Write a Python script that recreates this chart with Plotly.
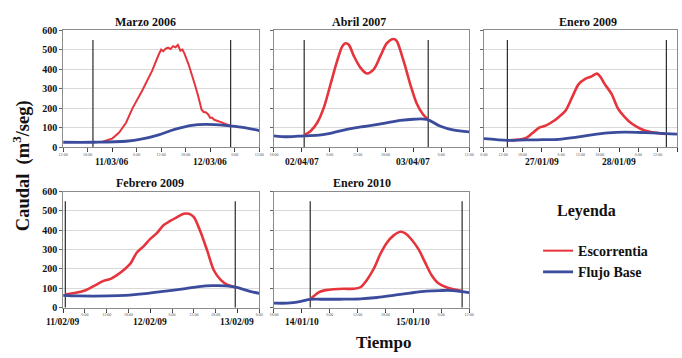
import plotly.graph_objects as go

# ---------------- data (hours from each panel's left edge, caudal m3/seg) -------------
titles = ["Marzo 2006", "Abril 2007", "Enero 2009", "Febrero 2009", "Enero 2010"]
spans = [48, 42, 60, 54, 42]

p1_base_h = [0, 7.3, 15.4, 19.4, 23.4, 27.5, 31.5, 34.7, 39.6, 44.4, 48]
p1_base_q = [25, 25, 30, 42, 63, 92, 112, 117, 112, 100, 85]
p1_run_h = [7.3, 9.7, 12.1, 13.7, 15.4, 17.0, 19.4, 21.8, 23.4, 24.0, 24.5, 25.1, 25.7,
            26.3, 26.9, 27.5, 28.1, 28.7, 29.2, 29.7, 30.7, 31.5, 32.3, 33.1, 33.9,
            34.4, 35.0, 35.6, 36.0, 36.4, 37.0, 38.0, 39.0, 39.6, 41.0]
p1_run_q = [25, 28, 45, 75, 125, 200, 292, 392, 475, 500, 492, 505, 510,
            503, 518, 512, 524, 495, 500, 480, 425, 375, 317, 258, 192,
            180, 178, 165, 150, 152, 140, 133, 125, 117, 108]

p2_base_h = [0, 2.9, 6.5, 10.1, 12.9, 16.5, 20, 23.6, 27.2, 30, 32.9, 35.7, 38.5, 42]
p2_base_q = [58, 53, 58, 63, 75, 95, 108, 122, 137, 143, 142, 108, 88, 78]
p2_run_h = [6.5, 7.9, 9.3, 10.8, 12.2, 13.6, 14.7, 15.4, 16.1, 17.2, 18.6, 20.0, 21.5,
            22.9, 24.3, 25.7, 26.4, 27.9, 29.3, 30.7, 32.1, 33.2]
p2_run_q = [62, 83, 125, 208, 325, 442, 517, 533, 525, 467, 408, 378, 400,
            467, 533, 555, 545, 442, 325, 225, 167, 142]

p3_base_h = [0, 3.9, 7.3, 13.1, 18.2, 23.3, 28.4, 33.5, 38.6, 43.7, 48.8, 54, 60]
p3_base_q = [43, 38, 35, 37, 38, 40, 50, 63, 73, 77, 75, 72, 67]
p3_run_h = [7.3, 10, 13.1, 15.1, 17.2, 19.2, 21.3, 23.3, 25.4, 27.4, 29.4, 31.5, 33.5,
            35.1, 36.1, 37.6, 39.7, 41.7, 43.7, 45.8, 48.8, 51.9, 54.9, 56.7]
p3_run_q = [35, 37, 47, 72, 100, 110, 130, 155, 188, 255, 322, 350, 363,
            377, 363, 322, 272, 197, 155, 122, 93, 77, 70, 67]

p4_base_h = [0, 4.2, 12.5, 17.1, 22.6, 28.2, 33.7, 37.4, 41.1, 44.8, 47.5, 51.2, 54]
p4_base_q = [63, 60, 60, 63, 72, 85, 98, 108, 113, 112, 105, 85, 73]
p4_run_h = [0.6, 3.2, 6, 8.8, 11.1, 12.9, 14.8, 16.6, 18.5, 20.3, 22.2, 24, 25.8, 27.7,
            29.5, 31.4, 33.2, 34.6, 36, 37.8, 39.7, 41.5, 43.4, 45.2, 47.4]
p4_run_q = [68, 75, 88, 115, 138, 147, 168, 193, 227, 285, 318, 355, 385, 427,
            448, 468, 485, 485, 468, 393, 293, 193, 143, 118, 105]

p5_base_h = [0, 2.9, 5.8, 7.8, 10.1, 14.3, 18.6, 22.2, 25.7, 29.3, 32.9, 35.7, 38.5, 42]
p5_base_q = [23, 23, 32, 42, 43, 43, 45, 52, 63, 75, 85, 88, 88, 77]
p5_run_h = [7.8, 8.6, 9.7, 11.1, 12.9, 15, 17.2, 18.6, 20, 21.5, 22.9, 24.3, 25.7,
            27.2, 28.2, 29.6, 31.1, 32.5, 33.9, 35.3, 37.1, 38.9, 40.5]
p5_run_q = [42, 60, 80, 90, 95, 97, 97, 105, 143, 202, 277, 335, 372,
            392, 385, 352, 302, 235, 168, 127, 105, 93, 85]

# event limits (start / end of the storm) in hours
event_h = [[7.3, 41.0], [6.5, 33.2], [7.3, 56.7], [0.6, 47.4], [7.8, 40.5]]

# small hour tick labels (positions in hours) -- midnight positions carry the date label
p1_tick_h = [0, 6, 18, 24, 30, 42, 48]
p1_ticks = ["12:00", "18:00", "6:00", "12:00", "18:00", "6:00", "12:00"]
p2_tick_h = [0, 12, 18, 24, 36, 42]
p2_ticks = ["18:00", "6:00", "12:00", "18:00", "6:00", "12:00"]
p3_tick_h = [0, 6, 12, 24, 30, 36, 48, 54]
p3_ticks = ["6:00", "12:00", "18:00", "6:00", "12:00", "18:00", "6:00", "12:00"]
p4_tick_h = [6, 12, 18, 30, 36, 42, 54]
p4_ticks = ["6:00", "12:00", "18:00", "6:00", "12:00", "18:00", "6:00"]
p5_tick_h = [0, 12, 18, 24, 36, 42]
p5_ticks = ["18:00", "6:00", "12:00", "18:00", "6:00", "12:00"]

date_labels = [["11/03/06", "12/03/06"], ["02/04/07", "03/04/07"], ["27/01/09", "28/01/09"],
               ["11/02/09", "12/02/09", "13/02/09"], ["14/01/10", "15/01/10"]]
date_h = [[12, 36], [6, 30], [18, 42], [0, 24, 48], [6, 30]]

y_ticks = [0, 100, 200, 300, 400, 500, 600]

# ---------------- styling / layout -------------
W, H = 682, 358
RED = "#e6343d"
BLUE = "#3b4c9d"
SERIF = "Liberation Serif, Times New Roman, DejaVu Serif, serif"

x_px = [(59, 258), (273, 471), (486, 682), (59, 258), (273, 471)]
y_px = [(25, 146), (25, 146), (25, 146), (192, 312), (192, 312)]
title_x = [143, 359, 592, 147, 362]
title_y = [17, 17, 17, 183, 183]
date_y = [161, 161, 161, 327, 327]

base_h = [p1_base_h, p2_base_h, p3_base_h, p4_base_h, p5_base_h]
base_q = [p1_base_q, p2_base_q, p3_base_q, p4_base_q, p5_base_q]
run_h = [p1_run_h, p2_run_h, p3_run_h, p4_run_h, p5_run_h]
run_q = [p1_run_q, p2_run_q, p3_run_q, p4_run_q, p5_run_q]
tick_h = [p1_tick_h, p2_tick_h, p3_tick_h, p4_tick_h, p5_tick_h]
tick_text = [p1_ticks, p2_ticks, p3_ticks, p4_ticks, p5_ticks]

fig = go.Figure()
annotations = []
layout = {}

for i in range(5):
    n = "" if i == 0 else str(i + 1)
    xa, ya = "x" + n, "y" + n
    # event limit lines
    for h in event_h[i]:
        fig.add_trace(go.Scatter(x=[h, h], y=[-4, 550], mode="lines", xaxis=xa, yaxis=ya,
                                 line=dict(color="#2b2b2b", width=1.2), showlegend=False,
                                 hoverinfo="skip", cliponaxis=False))
    fig.add_trace(go.Scatter(x=run_h[i], y=run_q[i], mode="lines", xaxis=xa, yaxis=ya,
                             name="Escorrentia", legendgroup="r", showlegend=(i == 0),
                             line=dict(color=RED, width=2.0 if i == 0 else 2.6,
                                       shape="linear" if i == 0 else "spline", smoothing=0.8)))
    fig.add_trace(go.Scatter(x=base_h[i], y=base_q[i], mode="lines", xaxis=xa, yaxis=ya,
                             name="Flujo Base", legendgroup="b", showlegend=(i == 0),
                             line=dict(color=BLUE, width=2.8, shape="spline", smoothing=1.0)))

    x0, x1 = x_px[i]
    y0, y1 = y_px[i]
    layout["xaxis" + n] = dict(
        domain=[x0 / W, x1 / W], range=[0, spans[i]], anchor=ya,
        tickmode="array", tickvals=tick_h[i], ticktext=tick_text[i],
        tickfont=dict(size=4, color="#555555", family=SERIF),
        ticks="outside", ticklen=3, tickcolor="#555555",
        minor=dict(tick0=0, dtick=6, ticks="outside", ticklen=4, tickcolor="#333333",
                   showgrid=False),
        showgrid=False, zeroline=False, showline=True, linecolor="#8c8c8c",
        linewidth=1, mirror=True, fixedrange=True)
    layout["yaxis" + n] = dict(
        domain=[1 - y1 / H, 1 - y0 / H], range=[0, 600], anchor=xa,
        tickmode="array", tickvals=y_ticks,
        showticklabels=(i in (0, 3)),
        tickfont=dict(size=10, color="#111111", family=SERIF, weight="bold"),
        ticks="outside", ticklen=3, tickcolor="#666666",
        showgrid=True, gridcolor="#d9d9d9", gridwidth=1, zeroline=False,
        showline=True, linecolor="#8c8c8c", linewidth=1, mirror=True, fixedrange=True)

    annotations.append(dict(text="<b>" + titles[i] + "</b>", x=title_x[i] / W, y=1 - title_y[i] / H,
                            xref="paper", yref="paper", showarrow=False, xanchor="center",
                            yanchor="middle", font=dict(size=12, family=SERIF, color="#111111")))
    for lab, h in zip(date_labels[i], date_h[i]):
        annotations.append(dict(text="<b>" + lab + "</b>", x=h, y=1 - date_y[i] / H,
                                xref=xa, yref="paper", showarrow=False, xanchor="center",
                                yanchor="middle", font=dict(size=9.5, family=SERIF, color="#111111")))

annotations.append(dict(text="<b>Caudal  (m<sup>3</sup>/seg)</b>", x=17 / W, y=1 - 165 / H,
                        xref="paper", yref="paper", showarrow=False, textangle=-90,
                        xanchor="center", yanchor="middle",
                        font=dict(size=18.5, family=SERIF, color="#111111")))
annotations.append(dict(text="<b>Tiempo</b>", x=384 / W, y=1 - 348 / H,
                        xref="paper", yref="paper", showarrow=False,
                        xanchor="center", yanchor="middle",
                        font=dict(size=17, family=SERIF, color="#111111")))
annotations.append(dict(text="<b>Leyenda</b>", x=590 / W, y=1 - 212 / H,
                        xref="paper", yref="paper", showarrow=False,
                        xanchor="center", yanchor="middle",
                        font=dict(size=16, family=SERIF, color="#111111")))

fig.update_layout(
    width=W, height=H, autosize=False,
    margin=dict(l=0, r=0, t=0, b=0),
    paper_bgcolor="white", plot_bgcolor="white",
    showlegend=True,
    legend=dict(x=541 / W, y=1 - 237 / H, xanchor="left", yanchor="top",
                font=dict(size=14, family=SERIF, color="#111111", weight="bold"),
                bgcolor="rgba(0,0,0,0)", borderwidth=0, tracegroupgap=0,
                itemwidth=30),
    annotations=annotations,
    **layout,
)

fig.write_html("out.html", config={"displayModeBar": False},
               post_script="document.body.style.margin='0';document.body.style.padding='0';")
